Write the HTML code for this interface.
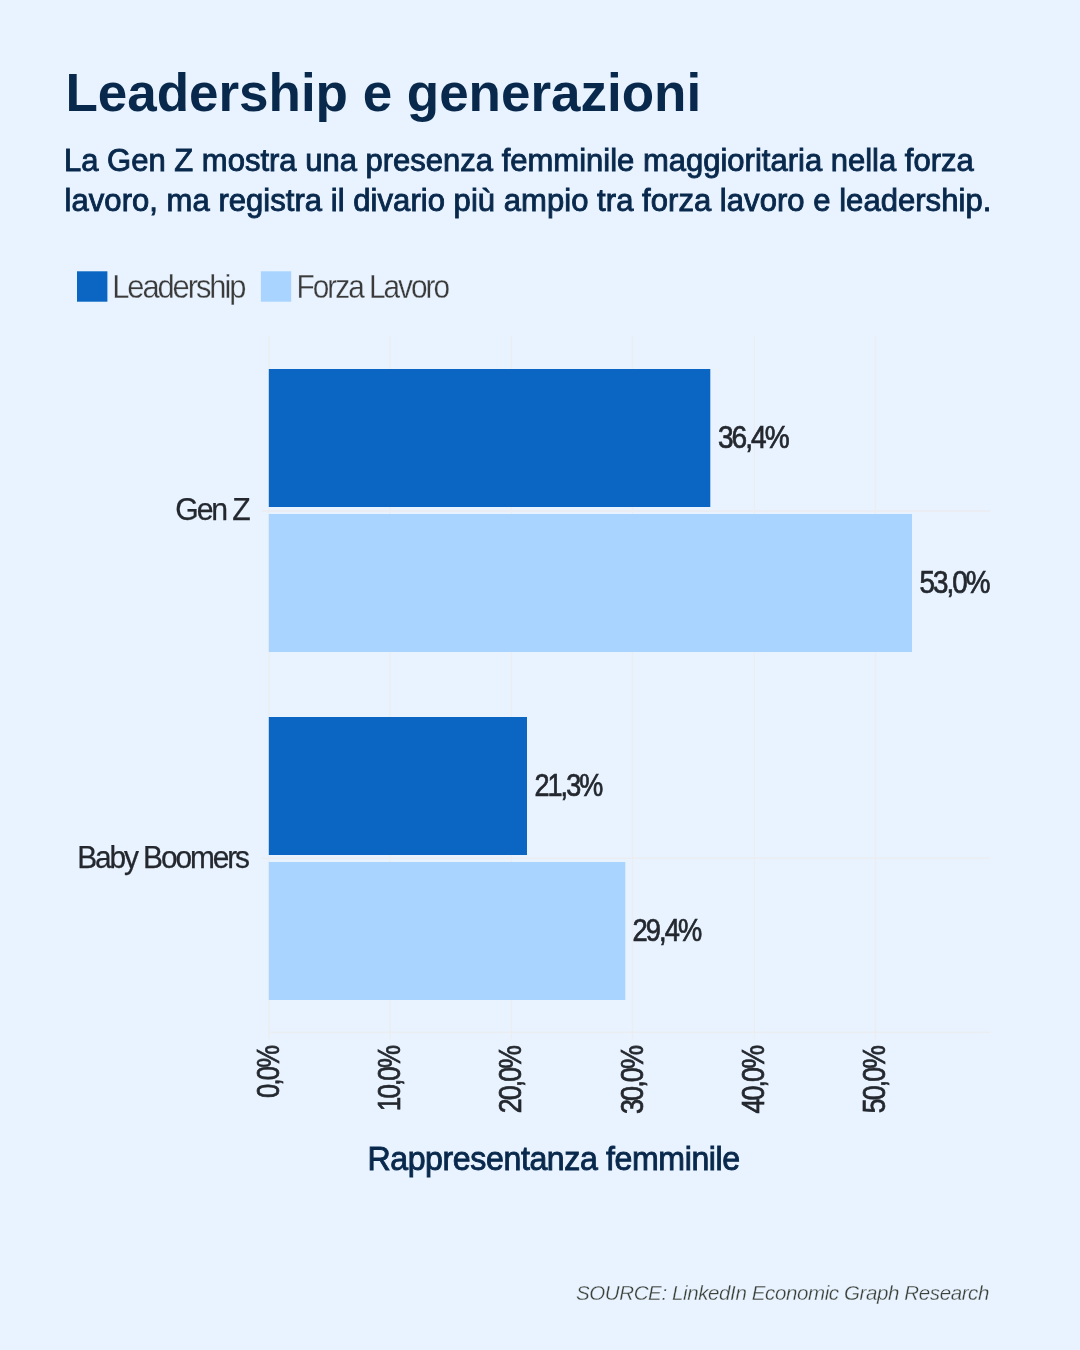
<!DOCTYPE html>
<html lang="it">
<head>
<meta charset="utf-8">
<title>Leadership e generazioni</title>
<style>
html,body{margin:0;padding:0;}
body{width:1080px;height:1350px;background:#E8F3FF;position:relative;overflow:hidden;
  font-family:"Liberation Sans",sans-serif;}
h1{position:absolute;left:65.4px;top:65.8px;margin:0;font-size:53px;line-height:53px;font-weight:700;
  color:#08284C;white-space:nowrap;letter-spacing:-0.02px;}
p.sub{position:absolute;left:64px;top:142px;margin:0;font-size:31px;line-height:38.3px;font-weight:400;
  color:#08284C;white-space:nowrap;-webkit-text-stroke:0.9px #08284C;}
.sub span{position:absolute;left:0;display:block;}
.l1{top:0;}
.l2{top:39.5px;letter-spacing:0.045px;margin-left:0.6px;}
svg{position:absolute;left:0;top:0;}
svg text{font-family:"Liberation Sans",sans-serif;}
.val{font-size:31px;fill:#24282E;stroke:#24282E;stroke-width:0.7px;letter-spacing:-2.2px;}
.cat{font-size:31px;fill:#24282E;stroke:#24282E;stroke-width:0.25px;letter-spacing:-2.2px;}
.leg{font-size:32.5px;fill:#3A3A3A;stroke:#E8F3FF;stroke-width:0.3px;letter-spacing:-2.2px;}
.src{font-size:21px;font-style:italic;fill:#3B4038;stroke:#E8F3FF;stroke-width:0.3px;letter-spacing:-0.4px;}
.axt{font-size:33px;fill:#08284C;stroke:#08284C;stroke-width:0.9px;letter-spacing:-0.4px;}
</style>
</head>
<body>
<h1>Leadership e generazioni</h1>
<p class="sub"><span class="l1">La Gen Z mostra una presenza femminile maggioritaria nella forza</span> <span class="l2">lavoro, ma registra il divario più ampio tra forza lavoro e leadership.</span></p>
<svg width="1080" height="1350" viewBox="0 0 1080 1350">
<line x1="269.0" y1="336" x2="269.0" y2="1039.6" stroke="#EBEDF0" stroke-width="1.4"/>
<line x1="390.0" y1="336" x2="390.0" y2="1039.6" stroke="#EBEDF0" stroke-width="1.4"/>
<line x1="511.3" y1="336" x2="511.3" y2="1039.6" stroke="#EBEDF0" stroke-width="1.4"/>
<line x1="632.6" y1="336" x2="632.6" y2="1039.6" stroke="#EBEDF0" stroke-width="1.4"/>
<line x1="754.4" y1="336" x2="754.4" y2="1039.6" stroke="#EBEDF0" stroke-width="1.4"/>
<line x1="875.6" y1="336" x2="875.6" y2="1039.6" stroke="#EBEDF0" stroke-width="1.4"/>
<line x1="261.6" y1="511.0" x2="990.4" y2="511.0" stroke="#EBEDF0" stroke-width="1.4"/>
<line x1="261.6" y1="858.2" x2="990.4" y2="858.2" stroke="#EBEDF0" stroke-width="1.4"/>
<line x1="269.0" y1="1032.3" x2="990.4" y2="1032.3" stroke="#EBEDF0" stroke-width="1.4"/>
<rect x="268.8" y="369.0" width="441.5" height="138.0" fill="#0A66C2"/>
<rect x="268.8" y="514.0" width="643.2" height="138.0" fill="#A8D4FF"/>
<rect x="268.8" y="717.0" width="258.2" height="138.0" fill="#0A66C2"/>
<rect x="268.8" y="862.0" width="356.5" height="138.0" fill="#A8D4FF"/>
<text class="val" x="718.0" y="448.2" textLength="69.6" lengthAdjust="spacingAndGlyphs">36,4%</text>
<text class="val" x="919.6" y="592.9" textLength="69.0" lengthAdjust="spacingAndGlyphs">53,0%</text>
<text class="val" x="534.4" y="796.3" textLength="67.0" lengthAdjust="spacingAndGlyphs">21,3%</text>
<text class="val" x="632.6" y="941.0" textLength="67.6" lengthAdjust="spacingAndGlyphs">29,4%</text>
<text class="cat" x="175.3" y="520.4" textLength="73.2" lengthAdjust="spacingAndGlyphs">Gen Z</text>
<text class="cat" x="77.3" y="867.9" textLength="170.5" lengthAdjust="spacingAndGlyphs">Baby Boomers</text>
<text class="val" transform="translate(279.3,1098.0) rotate(-90)" textLength="51.1" lengthAdjust="spacingAndGlyphs">0,0%</text>
<text class="val" transform="translate(399.6,1111.2) rotate(-90)" textLength="64.3" lengthAdjust="spacingAndGlyphs">10,0%</text>
<text class="val" transform="translate(521.1,1113.2) rotate(-90)" textLength="66.3" lengthAdjust="spacingAndGlyphs">20,0%</text>
<text class="val" transform="translate(643.3,1114.1) rotate(-90)" textLength="67.2" lengthAdjust="spacingAndGlyphs">30,0%</text>
<text class="val" transform="translate(764.4,1113.5) rotate(-90)" textLength="66.6" lengthAdjust="spacingAndGlyphs">40,0%</text>
<text class="val" transform="translate(885.4,1113.2) rotate(-90)" textLength="66.3" lengthAdjust="spacingAndGlyphs">50,0%</text>
<rect x="77" y="271.3" width="30.4" height="30.4" fill="#0A66C2"/>
<rect x="260.9" y="271.3" width="30.3" height="30.4" fill="#A8D4FF"/>
<text class="leg" x="112.2" y="297.8" textLength="132.1" lengthAdjust="spacingAndGlyphs">Leadership</text>
<text class="leg" x="296.6" y="297.8" textLength="151.4" lengthAdjust="spacingAndGlyphs">Forza Lavoro</text>
<text class="src" x="576.0" y="1300.2" textLength="413.0" lengthAdjust="spacingAndGlyphs">SOURCE: LinkedIn Economic Graph Research</text>
<text class="axt" x="367.4" y="1169.8" textLength="372.4" lengthAdjust="spacingAndGlyphs">Rappresentanza femminile</text>
</svg>
</body>
</html>
